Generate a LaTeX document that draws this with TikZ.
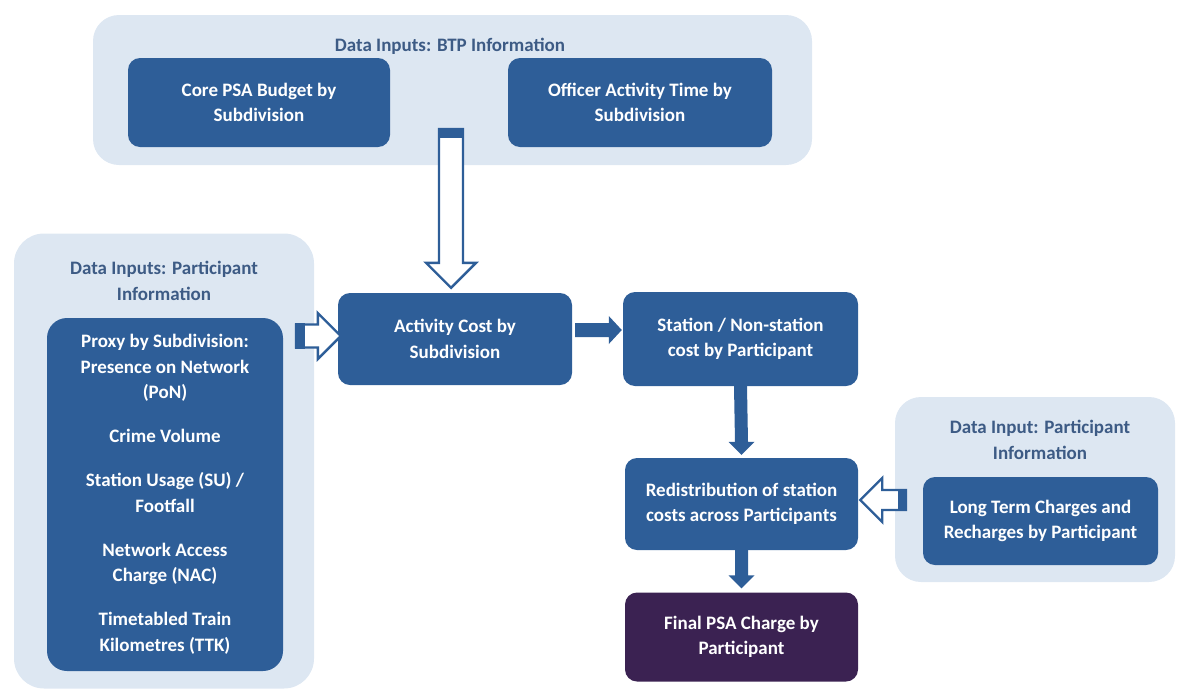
\documentclass[tikz,border=0pt]{standalone}
\usepackage{fontspec}
\setmainfont{Carlito}
\usetikzlibrary{calc}
\definecolor{boxblue}{HTML}{2E5E98}
\definecolor{groupbg}{HTML}{DDE7F2}
\definecolor{titleblue}{HTML}{3D5B85}
\definecolor{finalpurple}{HTML}{3B2252}
\newcommand\dgfont{\fontsize{19}{25.5}\selectfont\bfseries}

\begin{document}
\begin{tikzpicture}[x=1pt,y=-1pt,
  group/.style={fill=groupbg, rounded corners=26pt, inner sep=0pt},
  stepbox/.style={fill=boxblue, rounded corners=12pt, text=white, align=center,
                  inner sep=0pt, font=\dgfont},
  grouptitle/.style={text=titleblue, align=center, inner sep=0pt, font=\dgfont},
  hollowarrow/.style={fill=white, draw=boxblue, line width=2.4pt, line join=miter},
  solidarrow/.style={fill=boxblue},
  arrowcap/.style={fill=boxblue}]

\useasboundingbox (0,0) rectangle (1179,691);

% ---- group panels
\node[group, minimum width=719, minimum height=150] (btp) at (452.5,90) {};
\node[group, rounded corners=30pt, minimum width=300, minimum height=455] (part) at (164,461) {};
\node[group, minimum width=280, minimum height=185] (ltin) at (1035,489.5) {};

% ---- BTP inputs
\node[grouptitle] (btptitle) at (450,46) {Data Inputs: BTP Information};
\node[stepbox, minimum width=262, minimum height=89] (core) at (259,102.5)
  {Core PSA Budget by\\Subdivision};
\node[stepbox, minimum width=264, minimum height=89] (officer) at (640,102.5)
  {Officer Activity Time by\\Subdivision};

% ---- participant inputs
\node[grouptitle] (parttitle) at (164,281) {Data Inputs: Participant\\Information};
\node[stepbox, rounded corners=20pt, minimum width=236, minimum height=353] (proxy) at (165,494.5)
  {Proxy by Subdivision:\\Presence on Network\\(PoN)\\[18.5pt]
   Crime Volume\\[18.5pt]
   Station Usage (SU) /\\Footfall\\[18.5pt]
   Network Access\\Charge (NAC)\\[18.5pt]
   Timetabled Train\\Kilometres (TTK)};

% ---- main flow
\node[stepbox, minimum width=234, minimum height=92] (act) at (455,339)
  {Activity Cost by\\Subdivision};
\node[stepbox, minimum width=235, minimum height=94] (stat) at (740.5,339)
  {Station / Non-station\\cost by Participant};
\node[stepbox, minimum width=233, minimum height=92] (redist) at (741.5,504)
  {Redistribution of station\\costs across Participants};
\node[stepbox, fill=finalpurple, minimum width=233, minimum height=89] (final) at (741.5,637)
  {Final PSA Charge by\\Participant};

% ---- long-term charges input
\node[grouptitle] (lttitle) at (1040,440) {Data Input: Participant\\Information};
\node[stepbox, minimum width=235, minimum height=88] (lt) at (1040.5,521)
  {Long Term Charges and\\Recharges by Participant};

% ---- hollow arrow: BTP inputs -> activity cost
\coordinate (ta) at (451,129);
\coordinate (tb) at ($(ta |- act.north)+(0,-5)$);
\draw[hollowarrow] ($(ta)+(-12,0)$) -- ($(tb)+(-12,-25)$) -- ($(tb)+(-25,-25)$) -- (tb)
  -- ($(tb)+(25,-25)$) -- ($(tb)+(12,-25)$) -- ($(ta)+(12,0)$) -- cycle;
\fill[arrowcap] ($(ta)+(-13.2,-1.2)$) rectangle ($(ta)+(13.2,9)$);

% ---- hollow arrow: participant inputs -> activity cost
\coordinate (la) at (296,336);
\coordinate (lb) at ($(la -| act.west)+(3,0)$);
\draw[hollowarrow] ($(la)+(0,-11.5)$) -- ($(lb)+(-23,-11.5)$) -- ($(lb)+(-23,-23)$) -- (lb)
  -- ($(lb)+(-23,23)$) -- ($(lb)+(-23,11.5)$) -- ($(la)+(0,11.5)$) -- cycle;
\fill[arrowcap] ($(la)+(-1.2,-12.7)$) rectangle ($(la)+(9,12.7)$);

% ---- hollow arrow: long-term charges -> redistribution
\coordinate (ra) at (906,500);
\coordinate (rb) at ($(ra -| redist.east)+(2,0)$);
\draw[hollowarrow] ($(ra)+(0,-10)$) -- ($(rb)+(22,-10)$) -- ($(rb)+(22,-22)$) -- (rb)
  -- ($(rb)+(22,22)$) -- ($(rb)+(22,10)$) -- ($(ra)+(0,10)$) -- cycle;
\fill[arrowcap] ($(ra)+(-8,-11.2)$) rectangle ($(ra)+(1.2,11.2)$);

% ---- solid arrow: activity cost -> station / non-station cost
\coordinate (sa) at ($(act.east)+(3,-9)$);
\coordinate (sb) at ($(sa -| stat.west)+(-1,0)$);
\fill[solidarrow] ($(sa)+(0,-7)$) -- ($(sb)+(-13,-7)$) -- ($(sb)+(-13,-14)$) -- (sb)
  -- ($(sb)+(-13,14)$) -- ($(sb)+(-13,7)$) -- ($(sa)+(0,7)$) -- cycle;

% ---- solid arrow: station cost -> redistribution
\coordinate (da) at (stat.south);
\coordinate (db) at ($(redist.north)+(0,-3)$);
\fill[solidarrow] ($(da)+(-6.5,0)$) -- ($(db)+(-6.5,-13)$) -- ($(db)+(-13,-13)$) -- (db)
  -- ($(db)+(13,-13)$) -- ($(db)+(6.5,-13)$) -- ($(da)+(6.5,0)$) -- cycle;

% ---- solid arrow: redistribution -> final charge
\coordinate (fa) at (redist.south);
\coordinate (fb) at ($(final.north)+(0,-4)$);
\fill[solidarrow] ($(fa)+(-6.5,0)$) -- ($(fb)+(-6.5,-13)$) -- ($(fb)+(-13,-13)$) -- (fb)
  -- ($(fb)+(13,-13)$) -- ($(fb)+(6.5,-13)$) -- ($(fa)+(6.5,0)$) -- cycle;

\end{tikzpicture}
\end{document}
